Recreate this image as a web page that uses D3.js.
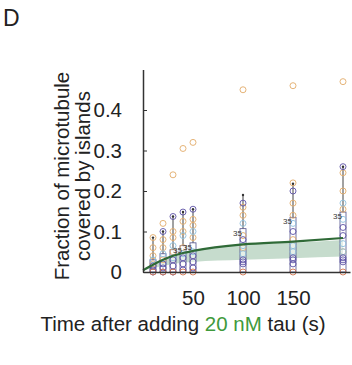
<!DOCTYPE html>
<html>
<head>
<meta charset="utf-8">
<script src="https://cdn.jsdelivr.net/npm/d3@7"></script>
<style>
  body { margin: 0; background: #fff; }
  svg { display: block; font-family: "Liberation Sans", Arial, sans-serif; }
</style>
</head>
<body>
<div id="chart"></div>
<script>
const width = 352;
const height = 365;

// time points (s)
const times = [10, 20, 30, 40, 50, 100, 150, 200];

// box stats per time point
const boxHigh = [0.03, 0.045, 0.055, 0.065, 0.072, 0.107, 0.135, 0.148];
const whiskerTop = [0.085, 0.10, 0.137, 0.148, 0.155, 0.19, 0.218, 0.26];
const counts = [null, null, null, 35, 35, 35, 35, 35];

// individual measurements, one list per time point and experiment
const orangeVals = [
  [0.085, 0.06, 0.04, 0.02],
  [0.12, 0.08, 0.06, 0.03],
  [0.24, 0.10, 0.085, 0.05],
  [0.305, 0.125, 0.10, 0.06],
  [0.32, 0.13, 0.115, 0.085],
  [0.45, 0.16, 0.14, 0.09, 0.06],
  [0.46, 0.22, 0.17, 0.14, 0.08],
  [0.47, 0.245, 0.20, 0.155, 0.05]
];
const purpleVals = [
  [0.015, 0.005, 0],
  [0.10, 0.02, 0.01, 0],
  [0.137, 0.03, 0.015, 0],
  [0.148, 0.035, 0.02, 0.005],
  [0.155, 0.04, 0.025, 0.01],
  [0.17, 0.08, 0.03, 0.025, 0.02],
  [0.20, 0.10, 0.035, 0.03, 0.02],
  [0.26, 0.11, 0.09, 0.035, 0.03, 0.025]
];
const blueVals = [
  [0.03],
  [0.045, 0.02],
  [0.065, 0.035],
  [0.09, 0.045],
  [0.10, 0.05],
  [0.12, 0.065, 0.045],
  [0.12, 0.065, 0.05],
  [0.17, 0.13, 0.07, 0.05]
];
const zeroVals = [[0], [0], [0], [0], [0], [0], [0], [0]];

// mean curve and its confidence band
const fitTimes = [0, 10, 20, 30, 40, 50, 100, 150, 200];
const fitMean = [0.004, 0.018, 0.03, 0.04, 0.047, 0.052, 0.068, 0.075, 0.084];
const bandLow = [0.003, 0.01, 0.015, 0.02, 0.023, 0.025, 0.03, 0.034, 0.038];
const bandHigh = [0.004, 0.018, 0.03, 0.04, 0.047, 0.052, 0.067, 0.072, 0.079];

const yTicks = [0, 0.1, 0.2, 0.3, 0.4];
const xTicks = [50, 100, 150];

const x = d3.scaleLinear().domain([0, 207]).range([143, 350]);
const y = d3.scaleLinear().domain([0, 0.5]).range([272, 69.5]);

const svg = d3.select("#chart")
    .append("svg")
    .attr("width", width)
    .attr("height", height);

// panel letter
svg.append("text")
    .attr("x", 3).attr("y", 26)
    .attr("font-size", 23)
    .attr("fill", "#222")
    .text("D");

// band
const band = d3.area()
    .x((d, i) => x(fitTimes[i]))
    .y0((d, i) => y(bandLow[i]))
    .y1((d, i) => y(bandHigh[i]))
    .curve(d3.curveMonotoneX);
svg.append("path")
    .attr("d", band(fitTimes))
    .attr("fill", "#bcd6c4")
    .attr("opacity", 0.85);

// boxes and whiskers
const cols = svg.append("g").selectAll("g")
    .data(times)
    .join("g");

cols.append("line")
    .attr("x1", d => x(d)).attr("x2", d => x(d))
    .attr("y1", (d, i) => y(boxHigh[i]))
    .attr("y2", (d, i) => y(whiskerTop[i]))
    .attr("stroke", "#444")
    .attr("stroke-width", 1);

cols.append("rect")
    .attr("x", d => x(d) - 3)
    .attr("width", 6)
    .attr("y", (d, i) => y(boxHigh[i]))
    .attr("height", (d, i) => y(0) - y(boxHigh[i]))
    .attr("fill", "#fff")
    .attr("fill-opacity", 0.55)
    .attr("stroke", "#50508a")
    .attr("stroke-width", 0.8);

cols.append("circle")
    .attr("cx", d => x(d))
    .attr("cy", (d, i) => y(whiskerTop[i]))
    .attr("r", 1.2)
    .attr("fill", "#333");

// measurement circles
function drawDots(vals, color) {
  const pts = [];
  vals.forEach((list, i) => list.forEach(v => pts.push([times[i], v])));
  svg.append("g").selectAll("circle")
      .data(pts)
      .join("circle")
      .attr("cx", d => x(d[0]))
      .attr("cy", d => y(d[1]))
      .attr("r", 3)
      .attr("fill", "none")
      .attr("stroke", color)
      .attr("stroke-width", 0.9);
}
drawDots(orangeVals, "#e2ab6a");
drawDots(blueVals, "#8fc0dc");
drawDots(purpleVals, "#5d52a6");
drawDots(zeroVals, "#d4744c");

// counts
svg.append("g").selectAll("text")
    .data(times.map((t, i) => [t, counts[i], boxHigh[i]]).filter(d => d[1] !== null))
    .join("text")
    .attr("x", d => x(d[0]) - 1)
    .attr("y", d => y(d[2]) + 7)
    .attr("text-anchor", "end")
    .attr("font-size", 8)
    .attr("fill", "#333")
    .text(d => d[1]);

// mean line
const line = d3.line()
    .x((d, i) => x(fitTimes[i]))
    .y((d, i) => y(fitMean[i]))
    .curve(d3.curveMonotoneX);
svg.append("path")
    .attr("d", line(fitTimes))
    .attr("fill", "none")
    .attr("stroke", "#2f6a37")
    .attr("stroke-width", 2.2);

// axes
svg.append("g")
    .attr("transform", `translate(${x(0)},0)`)
    .call(d3.axisLeft(y).tickValues(yTicks)
        .tickFormat(d => d === 0 ? "0" : d3.format(".1f")(d))
        .tickSizeInner(-4).tickSizeOuter(0).tickPadding(21))
    .call(g => g.select(".domain").attr("stroke", "#333").attr("stroke-width", 1.5))
    .call(g => g.selectAll(".tick line").attr("stroke", "#333"))
    .call(g => g.selectAll("text").attr("font-size", 20.5).attr("fill", "#222")
        .attr("font-family", "Liberation Sans, Arial, sans-serif"));

svg.append("g")
    .attr("transform", `translate(0,${y(0)})`)
    .call(d3.axisBottom(x).tickValues(xTicks).tickSize(0).tickPadding(18))
    .call(g => g.select(".domain").attr("stroke", "#333").attr("stroke-width", 1.5))
    .call(g => g.selectAll("text").attr("font-size", 20.5).attr("fill", "#222")
        .attr("font-family", "Liberation Sans, Arial, sans-serif"));

// axis titles
const yTitle = svg.append("text")
    .attr("transform", "translate(69,176) rotate(-90)")
    .attr("text-anchor", "middle")
    .attr("font-size", 20.5)
    .attr("fill", "#222");
yTitle.append("tspan").attr("x", 0).attr("dy", 0).text("Fraction of microtubule");
yTitle.append("tspan").attr("x", 0).attr("dy", 21).text("covered by islands");

const xTitle = svg.append("text")
    .attr("x", 183).attr("y", 331)
    .attr("text-anchor", "middle")
    .attr("font-size", 20.5)
    .attr("fill", "#222");
xTitle.append("tspan").text("Time after adding ");
xTitle.append("tspan").attr("fill", "#3f9a3c").text("20 nM");
xTitle.append("tspan").text(" tau (s)");
</script>
</body>
</html>
